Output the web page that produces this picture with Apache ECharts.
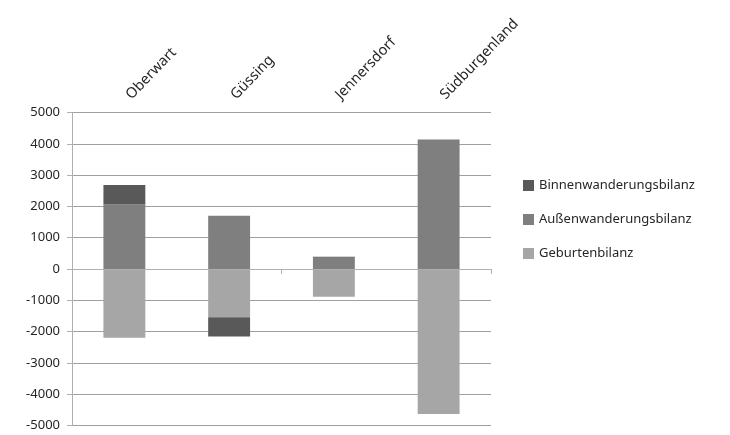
<!DOCTYPE html>
<html>
<head>
<meta charset="utf-8">
<script src="https://cdn.jsdelivr.net/npm/echarts@6/dist/echarts.min.js"></script>
<style>html,body{margin:0;padding:0;background:#fff;}#c{width:730px;height:435px;}</style>
</head>
<body>
<div id="c"></div>
<script>
const categories = ['Oberwart', 'Güssing', 'Jennersdorf', 'Südburgenland'];
const geburtenbilanz = [-2200, -1540, -890, -4630];
const aussenwanderungsbilanz = [2060, 1700, 360, 4130];
const binnenwanderungsbilanz = [620, -620, 30, 10];
const yTicks = { min: -5000, max: 5000, interval: 1000 };

const font = '"Noto Sans", sans-serif';
const chart = echarts.init(document.getElementById('c'), null, { renderer: 'canvas' });
chart.setOption({
  animation: false,
  backgroundColor: '#ffffff',
  textStyle: { fontFamily: font },
  grid: { left: 72, right: 239, top: 112.5, bottom: 9.5, containLabel: false },
  legend: {
    orient: 'vertical',
    left: 518,
    top: 174,
    itemWidth: 11,
    itemHeight: 11,
    itemGap: 21,
    icon: 'rect',
    textStyle: { fontFamily: font, fontSize: 13, color: '#262626' },
    data: ['Binnenwanderungsbilanz', 'Außenwanderungsbilanz', 'Geburtenbilanz']
  },
  xAxis: [
    {
      type: 'category',
      data: categories,
      position: 'bottom',
      z: 5,
      axisLine: { show: true, onZero: true, lineStyle: { color: '#b0b0b0', width: 1 } },
      axisTick: { show: true, length: 5, alignWithLabel: false, lineStyle: { color: '#b0b0b0' } },
      axisLabel: { show: false },
      splitLine: { show: false }
    },
    {
      type: 'category',
      data: categories,
      position: 'top',
      axisLine: { show: false, onZero: false },
      axisTick: { show: false },
      axisLabel: {
        show: true, rotate: -46, margin: 11, padding: [0, 0, 0, 6],
        fontFamily: font, fontSize: 14.5, color: '#262626'
      },
      splitLine: { show: false }
    }
  ],
  yAxis: {
    type: 'value',
    min: yTicks.min,
    max: yTicks.max,
    interval: yTicks.interval,
    axisLine: { show: true, lineStyle: { color: '#b0b0b0' } },
    axisTick: { show: true, length: 5, lineStyle: { color: '#b0b0b0' } },
    axisLabel: { fontFamily: font, fontSize: 13, color: '#262626', margin: 12, formatter: function (v) { return String(v); } },
    splitLine: { show: true, lineStyle: { color: '#a0a0a0', width: 1 } }
  },
  series: [
    {
      name: 'Geburtenbilanz', type: 'bar', stack: 'total', xAxisIndex: 0,
      barWidth: '40%', data: geburtenbilanz, itemStyle: { color: '#a6a6a6' }
    },
    {
      name: 'Außenwanderungsbilanz', type: 'bar', stack: 'total', xAxisIndex: 0,
      barWidth: '40%', data: aussenwanderungsbilanz, itemStyle: { color: '#7f7f7f' }
    },
    {
      name: 'Binnenwanderungsbilanz', type: 'bar', stack: 'total', xAxisIndex: 0,
      barWidth: '40%', data: binnenwanderungsbilanz, itemStyle: { color: '#595959' }
    }
  ]
});
</script>
</body>
</html>
